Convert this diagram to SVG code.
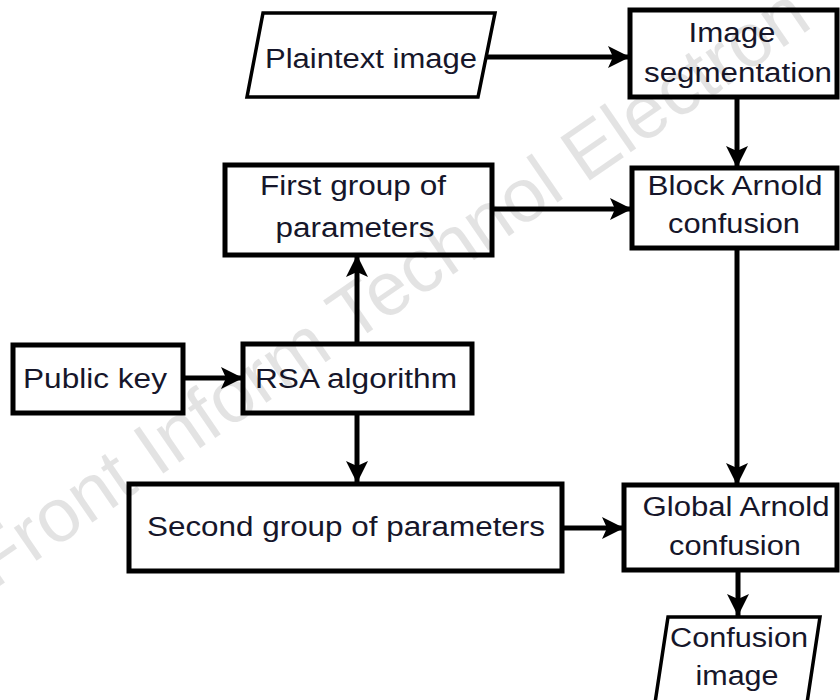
<svg xmlns="http://www.w3.org/2000/svg" width="840" height="700" viewBox="0 0 840 700">
  <style>
    .box { fill: #ffffff; stroke: #000000; stroke-width: 5; }
    .io { fill: #ffffff; stroke: #000000; stroke-width: 3.5; stroke-linejoin: miter; }
    .lbl { font-family: "Liberation Sans", Arial, sans-serif; font-size: 27px; fill: #16162a; text-anchor: middle; }
    .edge { fill: none; stroke: #000000; stroke-width: 5; marker-end: url(#arrow); }
    .mark { font-family: "Liberation Sans", Arial, sans-serif; font-size: 76px; fill: #000000; fill-opacity: 0.11; }
  </style>
  <defs>
    <marker id="arrow" markerUnits="userSpaceOnUse" markerWidth="24" markerHeight="24" refX="22" refY="11" orient="auto">
      <path d="M0,0 L22,11 L0,22 L5,11 z" fill="#000000"/>
    </marker>
  </defs>

  <rect width="840" height="700" fill="#ffffff"/>

  <!-- connectors -->
  <g id="connectors">
    <line class="edge" x1="479" y1="57" x2="630" y2="57"/>
    <line class="edge" x1="737" y1="97" x2="737" y2="168"/>
    <line class="edge" x1="492" y1="209" x2="632" y2="209"/>
    <line class="edge" x1="183" y1="378" x2="243" y2="378"/>
    <line class="edge" x1="357" y1="344" x2="357" y2="255"/>
    <line class="edge" x1="357" y1="413" x2="357" y2="483"/>
    <line class="edge" x1="562" y1="528" x2="624" y2="528"/>
    <line class="edge" x1="737" y1="248" x2="737" y2="485"/>
    <line class="edge" x1="738" y1="570" x2="738" y2="616"/>
  </g>

  <!-- nodes -->
  <g id="plaintext-image">
    <polygon class="io" points="263,13 495,13 478,97 247,97"/>
    <text class="lbl" x="371" y="68" textLength="212" lengthAdjust="spacingAndGlyphs">Plaintext image</text>
  </g>

  <g id="image-segmentation">
    <rect class="box" x="630" y="10" width="207" height="87"/>
    <text class="lbl" x="732" y="42" textLength="87" lengthAdjust="spacingAndGlyphs">Image</text>
    <text class="lbl" x="738" y="82" textLength="188" lengthAdjust="spacingAndGlyphs">segmentation</text>
  </g>

  <g id="block-arnold">
    <rect class="box" x="632" y="168" width="205" height="80"/>
    <text class="lbl" x="735" y="195" textLength="175" lengthAdjust="spacingAndGlyphs">Block Arnold</text>
    <text class="lbl" x="734" y="233" textLength="132" lengthAdjust="spacingAndGlyphs">confusion</text>
  </g>

  <g id="first-group">
    <rect class="box" x="225" y="165" width="267" height="90"/>
    <text class="lbl" x="353" y="195" textLength="186" lengthAdjust="spacingAndGlyphs">First group of</text>
    <text class="lbl" x="355" y="237" textLength="159" lengthAdjust="spacingAndGlyphs">parameters</text>
  </g>

  <g id="public-key">
    <rect class="box" x="13" y="345" width="170" height="68"/>
    <text class="lbl" x="95" y="388" textLength="144" lengthAdjust="spacingAndGlyphs">Public key</text>
  </g>

  <g id="rsa-algorithm">
    <rect class="box" x="243" y="344" width="229" height="69"/>
    <text class="lbl" x="356" y="388" textLength="202" lengthAdjust="spacingAndGlyphs">RSA algorithm</text>
  </g>

  <g id="second-group">
    <rect class="box" x="129" y="484" width="433" height="87"/>
    <text class="lbl" x="346" y="536" textLength="398" lengthAdjust="spacingAndGlyphs">Second group of parameters</text>
  </g>

  <g id="global-arnold">
    <rect class="box" x="624" y="485" width="213" height="85"/>
    <text class="lbl" x="736" y="516" textLength="187" lengthAdjust="spacingAndGlyphs">Global Arnold</text>
    <text class="lbl" x="735" y="555" textLength="132" lengthAdjust="spacingAndGlyphs">confusion</text>
  </g>

  <g id="confusion-image">
    <polygon class="io" points="668,617 820,617 807,703 655,703"/>
    <text class="lbl" x="739" y="647" textLength="138" lengthAdjust="spacingAndGlyphs">Confusion</text>
    <text class="lbl" x="737" y="685" textLength="83" lengthAdjust="spacingAndGlyphs">image</text>
  </g>

  <!-- journal watermark across the figure -->
  <text class="mark" x="-6" y="590" transform="rotate(-34.5 -6 590)">Front Inform Technol Electron</text>
</svg>
